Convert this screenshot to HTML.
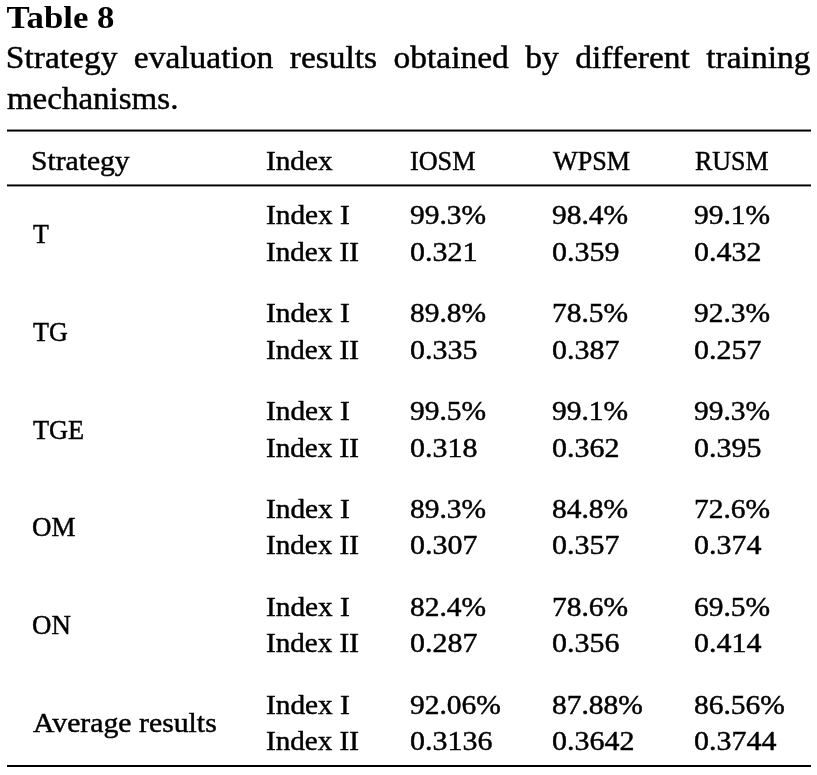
<!DOCTYPE html>
<html lang="en"><head><meta charset="utf-8"><title>Table 8</title><style>
html,body{margin:0;padding:0;background:#fff;}
body{width:817px;height:775px;overflow:hidden;position:relative;font-family:"Liberation Serif", "DejaVu Serif", serif;color:#000;-webkit-text-stroke:0.45px #000;}
.cap{position:absolute;left:0;top:0;width:817px;margin:0;}
.cap .t{position:absolute;left:0;top:-3px;margin:0;font-weight:bold;font-size:31.5px;-webkit-text-stroke:0;line-height:41px;white-space:nowrap;transform:translateX(6.55px) scaleX(1.104);transform-origin:0 0;}
.cap .p{position:absolute;left:0;top:37px;margin:0;font-size:32.5px;line-height:41px;width:781.17px;text-align:justify;transform:translateX(5.85px) scaleX(1.03);transform-origin:0 0;}
table{position:absolute;left:7px;top:130px;width:804px;border-collapse:separate;border-spacing:0;table-layout:fixed;font-size:27.5px;}
th,td{padding:0;text-align:left;font-weight:normal;white-space:nowrap;vertical-align:top;overflow:visible;box-sizing:border-box;}
th{height:57px;line-height:37px;border-top:2px solid transparent;border-bottom:2px solid transparent;padding-top:10px;}
td{line-height:37px;}
tr.a td{height:46px;}
tr.b td{height:52px;}
tr.a td{padding-top:9px;}
tr.b td{padding-top:0px;}
tr.a td.s{padding-top:28px;}
tr.z td,td.zs{border-bottom:2px solid transparent;}
.rule{position:absolute;left:7px;width:804px;height:3px;}
.r1{top:129px;background:linear-gradient(to bottom,#8c8c8c 0,#8c8c8c 1px,#000 1px,#000 2px,#737373 2px,#737373 3px);}
.r2{top:184px;background:linear-gradient(to bottom,#737373 0,#737373 1px,#000 1px,#000 2px,#999 2px,#999 3px);}
.r3{top:765px;height:2px;background:#000;}
tr.z td{height:44px;}
tr.u span.x,td.us span.x{position:relative;top:-1px;}
span.x{display:inline-block;transform-origin:0 50%;}
span.w{display:inline-block;transform-origin:0 50%;transform:scaleX(0.9865);position:relative;left:0.85px;}
</style></head><body>
<div class="cap"><p class="t">Table 8</p><p class="p">Strategy evaluation results obtained by different training <span class="w">mechanisms.</span></p></div>
<table><colgroup><col style="width:234px"><col style="width:143px"><col style="width:142px"><col style="width:143px"><col style="width:142px"></colgroup>
<thead><tr><th><span class="x" style="transform:scaleX(1.0764);margin-left:24.24px">Strategy</span></th><th><span class="x" style="transform:scaleX(1.0631);margin-left:25.07px">Index</span></th><th><span class="x" style="transform:scaleX(0.9520);margin-left:25.68px">IOSM</span></th><th><span class="x" style="transform:scaleX(0.9499);margin-left:26.80px">WPSM</span></th><th><span class="x" style="transform:scaleX(0.9424);margin-left:25.58px">RUSM</span></th></tr></thead><tbody>
<tr class="a"><td class="s" rowspan="2"><span class="x" style="transform:scaleX(0.9435);margin-left:25.56px">T</span></td><td><span class="x" style="transform:scaleX(1.0660);margin-left:25.07px">Index I</span></td><td><span class="x" style="transform:scaleX(1.0719);margin-left:25.63px">99.3%</span></td><td><span class="x" style="transform:scaleX(1.0719);margin-left:25.88px">98.4%</span></td><td><span class="x" style="transform:scaleX(1.0719);margin-left:25.38px">99.1%</span></td></tr>
<tr class="b"><td><span class="x" style="transform:scaleX(1.0583);margin-left:25.07px">Index II</span></td><td><span class="x" style="transform:scaleX(1.0902);margin-left:25.61px">0.321</span></td><td><span class="x" style="transform:scaleX(1.0902);margin-left:25.86px">0.359</span></td><td><span class="x" style="transform:scaleX(1.0902);margin-left:25.36px">0.432</span></td></tr>
<tr class="a"><td class="s" rowspan="2"><span class="x" style="transform:scaleX(0.9476);margin-left:25.85px">TG</span></td><td><span class="x" style="transform:scaleX(1.0660);margin-left:25.07px">Index I</span></td><td><span class="x" style="transform:scaleX(1.0719);margin-left:25.63px">89.8%</span></td><td><span class="x" style="transform:scaleX(1.0719);margin-left:25.88px">78.5%</span></td><td><span class="x" style="transform:scaleX(1.0719);margin-left:25.38px">92.3%</span></td></tr>
<tr class="b"><td><span class="x" style="transform:scaleX(1.0583);margin-left:25.07px">Index II</span></td><td><span class="x" style="transform:scaleX(1.0902);margin-left:25.61px">0.335</span></td><td><span class="x" style="transform:scaleX(1.0902);margin-left:25.86px">0.387</span></td><td><span class="x" style="transform:scaleX(1.0902);margin-left:25.36px">0.257</span></td></tr>
<tr class="a"><td class="s" rowspan="2"><span class="x" style="transform:scaleX(0.9566);margin-left:25.85px">TGE</span></td><td><span class="x" style="transform:scaleX(1.0660);margin-left:25.07px">Index I</span></td><td><span class="x" style="transform:scaleX(1.0719);margin-left:25.63px">99.5%</span></td><td><span class="x" style="transform:scaleX(1.0719);margin-left:25.88px">99.1%</span></td><td><span class="x" style="transform:scaleX(1.0719);margin-left:25.38px">99.3%</span></td></tr>
<tr class="b"><td><span class="x" style="transform:scaleX(1.0583);margin-left:25.07px">Index II</span></td><td><span class="x" style="transform:scaleX(1.0902);margin-left:25.61px">0.318</span></td><td><span class="x" style="transform:scaleX(1.0902);margin-left:25.86px">0.362</span></td><td><span class="x" style="transform:scaleX(1.0902);margin-left:25.36px">0.395</span></td></tr>
<tr class="a"><td class="s us" rowspan="2"><span class="x" style="transform:scaleX(0.9805);margin-left:24.82px">OM</span></td><td><span class="x" style="transform:scaleX(1.0660);margin-left:25.07px">Index I</span></td><td><span class="x" style="transform:scaleX(1.0719);margin-left:25.63px">89.3%</span></td><td><span class="x" style="transform:scaleX(1.0719);margin-left:25.88px">84.8%</span></td><td><span class="x" style="transform:scaleX(1.0719);margin-left:25.38px">72.6%</span></td></tr>
<tr class="b u"><td><span class="x" style="transform:scaleX(1.0583);margin-left:25.07px">Index II</span></td><td><span class="x" style="transform:scaleX(1.0902);margin-left:25.61px">0.307</span></td><td><span class="x" style="transform:scaleX(1.0902);margin-left:25.86px">0.357</span></td><td><span class="x" style="transform:scaleX(1.0902);margin-left:25.36px">0.374</span></td></tr>
<tr class="a"><td class="s us" rowspan="2"><span class="x" style="transform:scaleX(0.9787);margin-left:24.82px">ON</span></td><td><span class="x" style="transform:scaleX(1.0660);margin-left:25.07px">Index I</span></td><td><span class="x" style="transform:scaleX(1.0719);margin-left:25.63px">82.4%</span></td><td><span class="x" style="transform:scaleX(1.0719);margin-left:25.88px">78.6%</span></td><td><span class="x" style="transform:scaleX(1.0719);margin-left:25.38px">69.5%</span></td></tr>
<tr class="b u"><td><span class="x" style="transform:scaleX(1.0583);margin-left:25.07px">Index II</span></td><td><span class="x" style="transform:scaleX(1.0902);margin-left:25.61px">0.287</span></td><td><span class="x" style="transform:scaleX(1.0902);margin-left:25.86px">0.356</span></td><td><span class="x" style="transform:scaleX(1.0902);margin-left:25.36px">0.414</span></td></tr>
<tr class="a y"><td class="s us zs" rowspan="2"><span class="x" style="transform:scaleX(1.0822);margin-left:25.63px">Average results</span></td><td><span class="x" style="transform:scaleX(1.0660);margin-left:25.07px">Index I</span></td><td><span class="x" style="transform:scaleX(1.0719);margin-left:25.63px">92.06%</span></td><td><span class="x" style="transform:scaleX(1.0719);margin-left:25.88px">87.88%</span></td><td><span class="x" style="transform:scaleX(1.0719);margin-left:25.38px">86.56%</span></td></tr>
<tr class="b u z"><td><span class="x" style="transform:scaleX(1.0583);margin-left:25.07px">Index II</span></td><td><span class="x" style="transform:scaleX(1.0902);margin-left:25.61px">0.3136</span></td><td><span class="x" style="transform:scaleX(1.0902);margin-left:25.86px">0.3642</span></td><td><span class="x" style="transform:scaleX(1.0902);margin-left:25.36px">0.3744</span></td></tr>
</tbody></table><div class="rule r1"></div><div class="rule r2"></div><div class="rule r3"></div></body></html>
